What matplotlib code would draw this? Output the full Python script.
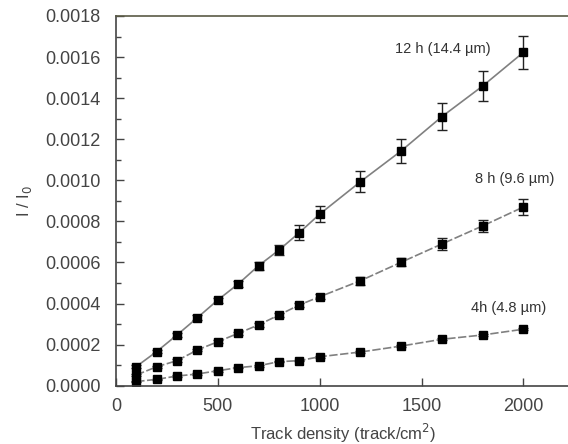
import matplotlib
matplotlib.use("Agg")
import matplotlib.pyplot as plt
from matplotlib.ticker import MultipleLocator, FormatStrFormatter

plt.rcParams['font.family'] = ['Liberation Sans', 'DejaVu Sans']

density = [100, 200, 300, 400, 500, 600, 700, 800, 900, 1000, 1200, 1400, 1600, 1800, 2000]

h12 = [0.000093, 0.000166, 0.000247, 0.000331, 0.000417, 0.000495, 0.000584, 0.00066,
       0.000745, 0.000835, 0.000993, 0.001143, 0.00131, 0.001459, 0.001623]
h12_err = [0.000008, 0.000008, 0.00001, 0.000012, 0.000012, 0.000015, 0.00002, 0.000025,
           0.000035, 0.00004, 0.000051, 0.000059, 0.000066, 0.000075, 0.00008]

h8 = [0.000052, 0.000092, 0.000122, 0.000174, 0.000214, 0.000255, 0.000296, 0.000344,
      0.000393, 0.000433, 0.000511, 0.000601, 0.00069, 0.000778, 0.00087]
h8_err = [0.000005, 0.000005, 0.000006, 0.000006, 0.000008, 0.000008, 0.00001, 0.00001,
          0.000012, 0.000012, 0.00002, 0.00002, 0.00003, 0.00003, 0.00004]

h4 = [0.00002, 0.000031, 0.000047, 0.000057, 0.000073, 0.000088, 0.000097, 0.000117,
      0.000122, 0.000141, 0.000164, 0.000193, 0.000226, 0.000247, 0.000275]
h4_err = [0.000004] * 15

labels = ["12 h (14.4 \u00b5m)", "8 h (9.6 \u00b5m)", "4h (4.8 \u00b5m)"]

fig = plt.figure(figsize=(5.68, 4.44), dpi=100)
ax = fig.add_axes([0.204, 0.1313, 0.80, 0.8327])

ax.errorbar(density, h12, yerr=h12_err, color="#808080", linestyle="-", linewidth=1.2,
            marker="s", markersize=5.5, mfc="black", mec="black",
            ecolor="#222222", elinewidth=1, capsize=3.5, capthick=1)
ax.errorbar(density, h8, yerr=h8_err, color="#808080", linestyle=(0, (5, 1.5)), linewidth=1.2,
            marker="s", markersize=5.5, mfc="black", mec="black",
            ecolor="#222222", elinewidth=1, capsize=3.5, capthick=1)
ax.errorbar(density, h4, yerr=h4_err, color="#808080", linestyle=(0, (5, 1.5)), linewidth=1.2,
            marker="s", markersize=5.5, mfc="black", mec="black",
            ecolor="#222222", elinewidth=1, capsize=3.5, capthick=1)

ax.text(1370, 0.00164, labels[0], fontsize=10.5, color="#333333", va="center")
ax.text(1760, 0.001005, labels[1], fontsize=10.5, color="#333333", va="center")
ax.text(1745, 0.000378, labels[2], fontsize=10.5, color="#333333", va="center")

ax.set_xlim(0, 2230)
ax.set_ylim(0, 0.0018)
ax.xaxis.set_major_locator(MultipleLocator(500))
ax.yaxis.set_major_locator(MultipleLocator(0.0002))
ax.yaxis.set_minor_locator(MultipleLocator(0.0001))
ax.yaxis.set_major_formatter(FormatStrFormatter('%.4f'))

ax.tick_params(which="major", direction="in", length=6, width=1, color="#444444",
               labelsize=13, labelcolor="#444444")
ax.tick_params(axis="y", which="major", pad=11)
ax.tick_params(axis="x", which="major", pad=9)
ax.tick_params(which="minor", direction="in", length=3.5, width=1, color="#444444")
ax.tick_params(axis="x", which="minor", bottom=False)

ax.spines["right"].set_visible(False)
ax.spines["left"].set_color("#444444")
ax.spines["bottom"].set_color("#444444")
ax.spines["top"].set_color("#5a5a45")
for s in ["left", "bottom", "top"]:
    ax.spines[s].set_linewidth(1.2)

ax.set_xlabel("Track density (track/cm$^2$)", fontsize=12, color="#444444", labelpad=5)
ax.set_ylabel("I / I$_0$", fontsize=12, color="#444444", labelpad=8)

fig.savefig("out.png", dpi=100)
